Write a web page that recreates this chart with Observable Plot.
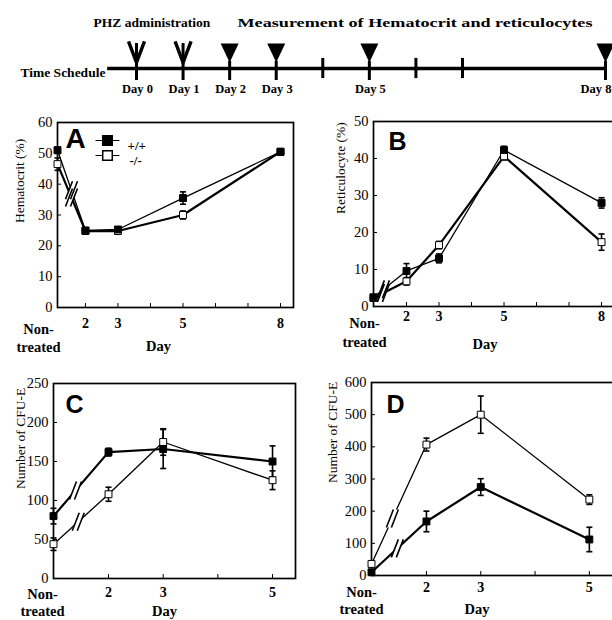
<!DOCTYPE html>
<html><head><meta charset="utf-8">
<script src="https://cdn.jsdelivr.net/npm/d3@7"></script>
<script src="https://cdn.jsdelivr.net/npm/@observablehq/plot@0.6"></script>
<style>
body{margin:0;background:#fff;}
#fig{position:relative;width:612px;height:620px;overflow:hidden;background:#fff;}
#fig > svg{position:absolute;}
</style></head><body><div id="fig"></div>
<script>
const SERIF = "'Liberation Serif', 'Times New Roman', serif";
const SANS = "'Liberation Sans', Arial, sans-serif";

// ---------- time schedule ----------
const scheduleStart = -0.62;
const scheduleEnd = 8;
const phzDays = [0, 1];
const measureDays = [2, 3, 5, 8];
const plainDays = [4, 6, 7];
const labelDays = [0, 1, 2, 3, 5, 8];
const labelTexts = ["Day 0", "Day 1", "Day 2", "Day 3", "Day 5", "Day 8"];

// ---------- panel A: hematocrit (%) ----------
const daysAB = ["NT", 2, 3, 5, 8];
const hctWT = [51, 25, 25.3, 35.5, 50.5];
const hctWTerr = [1, 0.6, 0.8, 2, 0.8];
const hctKO = [46.5, 24.8, 24.8, 30, 50.5];
const hctKOerr = [2, 0.5, 0.6, 1.3, 1];

// ---------- panel B: reticulocyte (%) ----------
const retWT = [2.5, 9.6, 13, 42.3, 28];
const retWTerr = [0.5, 2, 1.2, 1, 1.4];
const retKO = [2.3, 6.8, 16.6, 40.6, 17.4];
const retKOerr = [0.5, 1, 1, 1, 2.2];

// ---------- panel C: CFU-E ----------
const daysCD = ["NT", 2, 3, 5];
const cfuCWT = [80, 162, 166, 150];
const cfuCWTerr = [10, 5, 25, 20];
const cfuCKO = [44, 108, 175, 126];
const cfuCKOerr = [8, 9, 17, 12];

// ---------- panel D: CFU-E ----------
const cfuDWT = [10, 168, 275, 112];
const cfuDWTerr = [5, 32, 26, 38];
const cfuDKO = [36, 407, 500, 236];
const cfuDKOerr = [8, 20, 58, 15];

const fig = document.getElementById("fig");
function place(svg, left, top) {
  svg.style.left = left + "px";
  svg.style.top = top + "px";
  fig.appendChild(svg);
}

// custom symbols
const vArms = {draw(c) { c.moveTo(-8, -10.5); c.lineTo(0, 10.5); c.lineTo(8, -10.5); }};
const triDown = {draw(c) { c.moveTo(-9, -9.5); c.lineTo(9, -9.5); c.lineTo(0, 9.5); c.closePath(); }};
const breakFill = {draw(c) { c.moveTo(-6, 9); c.lineTo(1, -9); c.lineTo(6, -9); c.lineTo(-1, 9); c.closePath(); }};
const breakLines = {draw(c) { c.moveTo(-6, 9); c.lineTo(1, -9); c.moveTo(-1, 9); c.lineTo(6, -9); }};
const cap = {draw(c) { c.moveTo(-3, 0); c.lineTo(3, 0); }};
const legLine = {draw(c) { c.moveTo(-12, 0); c.lineTo(-5, 0); c.moveTo(5, 0); c.lineTo(12, 0); }};

// ---------- schedule plot ----------
const sched = Plot.plot({
  width: 612, height: 100, margin: 0,
  x: {type: "linear", domain: [0, 7, 8], range: [136, 462, 605], axis: null},
  y: {domain: [-1, 1], range: [92, 44], axis: null},
  style: {fontFamily: SERIF, background: "transparent", color: "black"},
  marks: [
    Plot.ruleY([0], {x1: scheduleStart, x2: scheduleEnd, strokeWidth: 3.4}),
    Plot.ruleX(phzDays, {x: d => d, y1: -0.5, y2: 1.04, strokeWidth: 3}),
    Plot.dot(phzDays, {x: d => d, y: 0.69, symbol: vArms, fill: "none", stroke: "black", strokeWidth: 3.4}),
    Plot.ruleX(measureDays, {x: d => d, y1: -0.5, y2: 0.3, strokeWidth: 3}),
    Plot.dot(measureDays, {x: d => d, y: 0.65, symbol: triDown, fill: "black", stroke: "none"}),
    Plot.ruleX(plainDays, {x: d => d, y1: -0.42, y2: 0.42, strokeWidth: 3}),
    Plot.text(labelDays.slice(0, 5), {x: d => d, y: -0.85, text: (d, i) => labelTexts[i], fontWeight: "bold", fontSize: 12.5, dx: 1}),
    Plot.text(labelDays.slice(5), {x: d => d, y: -0.85, text: (d, i) => labelTexts[5 + i], fontWeight: "bold", fontSize: 12.5, textAnchor: "end", dx: 6}),
    Plot.text(["PHZ administration"], {frameAnchor: "top-left", dx: 93, dy: 22, textAnchor: "start", lineAnchor: "middle", fontWeight: "bold", fontSize: 13.5}),
    Plot.text(["Measurement of Hematocrit and reticulocytes"], {frameAnchor: "top-left", dx: 237, dy: 22, textAnchor: "start", lineAnchor: "middle", fontWeight: "bold", fontSize: 13.5}),
    Plot.text(["Time Schedule"], {frameAnchor: "top-left", dx: 20, dy: 72, textAnchor: "start", lineAnchor: "middle", fontWeight: "bold", fontSize: 13.5})
  ]
});
d3.select(sched).selectAll("text").each(function() {
  if (this.textContent === "Measurement of Hematocrit and reticulocytes")
    d3.select(this).attr("textLength", 355).attr("lengthAdjust", "spacingAndGlyphs");
});
place(sched, 0, 0);

// ---------- panel builder ----------
function panel(c) {
  const nt = c.xDomain[0];
  const mk = (vals, errs) => c.days.map((d, i) => ({x: d === "NT" ? nt : d, y: vals[i], e: errs[i]}));
  const wt = mk(c.wt, c.wtErr), ko = mk(c.ko, c.koErr);
  const brk = (r, f) => ({x: r[0].x + f * (r[1].x - r[0].x), y: r[0].y + f * (r[1].y - r[0].y)});
  const breaks = [brk(wt, c.breakWT), brk(ko, c.breakKO)];
  const both = [...wt, ...ko];
  const caps = both.flatMap(d => [{x: d.x, y: d.y - d.e}, {x: d.x, y: d.y + d.e}]);
  const marks = [
    Plot.axisY({ticks: c.yTicks, tickSize: -4, tickPadding: 9, fontSize: 14.5, label: null, tickFormat: d => String(d)}),
    Plot.axisX({ticks: c.xTicks, tickSize: -4, tickPadding: c.xPad, fontSize: 14, fontWeight: "bold", label: null,
      tickFormat: d => c.xLabeled.includes(d) ? String(d) : ""}),
    Plot.frame({strokeWidth: 1.7}),
    Plot.text(["Non-\ntreated"], {frameAnchor: "bottom-left", dx: c.ntDx, dy: c.ntDy, textAnchor: "middle", lineAnchor: "top",
      lineHeight: c.ntLh, fontWeight: "bold", fontSize: 14.5}),
    Plot.text(["Day"], {frameAnchor: "bottom", dx: c.dayDx, dy: c.dayDy, lineAnchor: "top", fontWeight: "bold", fontSize: 14.5}),
    Plot.text([c.ylabel], {frameAnchor: "left", rotate: -90, dx: c.ylDx, dy: c.ylDy, fontSize: 13.5}),
    Plot.text([c.letter], {frameAnchor: "top-left", dx: c.letDx, dy: c.letDy, textAnchor: "start", lineAnchor: "top",
      fontFamily: SANS, fontWeight: "bold", fontSize: c.letSize}),
    Plot.line(ko, {x: "x", y: "y", strokeWidth: c.koW}),
    Plot.line(wt, {x: "x", y: "y", strokeWidth: c.wtW}),
    Plot.dot(breaks, {x: "x", y: "y", symbol: breakFill, fill: "white", stroke: "none"}),
    Plot.dot(breaks, {x: "x", y: "y", symbol: breakLines, fill: "none", stroke: "black", strokeWidth: 1.6}),
    Plot.ruleX(both, {x: "x", y1: d => d.y - d.e, y2: d => d.y + d.e, strokeWidth: 1.6}),
    Plot.dot(caps, {x: "x", y: "y", symbol: cap, fill: "none", stroke: "black", strokeWidth: 1.6}),
    Plot.dot(ko, {x: "x", y: "y", symbol: "square", r: 3.9, fill: "white", stroke: "black", strokeWidth: 1}),
    Plot.dot(wt, {x: "x", y: "y", symbol: "square", r: 3.9, fill: "black", stroke: "black", strokeWidth: 1})
  ];
  if (c.legend) {
    marks.push(
      Plot.dot([0], {frameAnchor: "top-left", dx: 50, dy: 18, symbol: legLine, fill: "none", stroke: "black", strokeWidth: 1}),
      Plot.dot([0], {frameAnchor: "top-left", dx: 50, dy: 33, symbol: legLine, fill: "none", stroke: "black", strokeWidth: 1}),
      Plot.dot([0], {frameAnchor: "top-left", dx: 50, dy: 18, symbol: "square", r: 5.4, fill: "black", stroke: "black"}),
      Plot.dot([0], {frameAnchor: "top-left", dx: 50, dy: 33, symbol: "square", r: 5.4, fill: "white", stroke: "black"}),
      Plot.text(["+/+"], {frameAnchor: "top-left", dx: 70, dy: 18, textAnchor: "start", fontWeight: "bold", fontSize: 13}),
      Plot.text(["-/-"], {frameAnchor: "top-left", dx: 72, dy: 33, textAnchor: "start", fontWeight: "bold", fontSize: 13})
    );
  }
  const svg = Plot.plot({
    width: c.width, height: c.height,
    marginTop: c.mt, marginBottom: c.mb, marginLeft: c.ml, marginRight: c.mr,
    x: {domain: c.xDomain}, y: {domain: c.yDomain},
    style: {fontFamily: SERIF, background: "transparent", color: "black", overflow: "visible"},
    marks
  });
  place(svg, c.left, c.top);
}

panel({left: 0, top: 100, width: 306, height: 260, mt: 22, mb: 53, ml: 57, mr: 13,
  xDomain: [1.14, 8.4], yDomain: [0, 60], yTicks: [0, 10, 20, 30, 40, 50, 60],
  xTicks: [2, 3, 4, 5, 6, 7, 8], xLabeled: [2, 3, 5, 8], xPad: 15,
  days: daysAB, wt: hctWT, wtErr: hctWTerr, ko: hctKO, koErr: hctKOerr, wtW: 1.3, koW: 2.2,
  breakWT: 0.5, breakKO: 0.5, ylabel: "Hematocrit (%)", ylDx: -38, ylDy: 8,
  ntDx: -19, ntDy: 13, ntLh: 1.27, dayDx: -17, dayDy: 33, letter: "A", letDx: 8, letDy: 6, letSize: 28, legend: true});

panel({left: 306, top: 100, width: 310, height: 260, mt: 21, mb: 54, ml: 67, mr: 0,
  xDomain: [0.985, 8.46], yDomain: [0, 50], yTicks: [0, 10, 20, 30, 40, 50],
  xTicks: [2, 3, 4, 5, 6, 7, 8], xLabeled: [2, 3, 5, 8], xPad: 9,
  days: daysAB, wt: retWT, wtErr: retWTerr, ko: retKO, koErr: retKOerr, wtW: 1.3, koW: 2.2,
  breakWT: 0.3, breakKO: 0.3, ylabel: "Reticulocyte (%)", ylDx: -33, ylDy: 0,
  ntDx: -9, ntDy: 8, ntLh: 1.3, dayDx: -10, dayDy: 32, letter: "B", letDx: 15, letDy: 11, letSize: 25});

panel({left: 0, top: 360, width: 306, height: 260, mt: 23, mb: 42, ml: 53, mr: 11,
  xDomain: [0.994, 5.42], yDomain: [0, 250], yTicks: [0, 50, 100, 150, 200, 250],
  xTicks: [2, 3, 4, 5], xLabeled: [2, 3, 5], xPad: 13,
  days: daysCD, wt: cfuCWT, wtErr: cfuCWTerr, ko: cfuCKO, koErr: cfuCKOerr, wtW: 2.2, koW: 1.3,
  breakWT: 0.4, breakKO: 0.45, ylabel: "Number of CFU-E", ylDx: -33, ylDy: 8,
  ntDx: -11, ntDy: 8, ntLh: 1.18, dayDx: -10, dayDy: 27, letter: "C", letDx: 12, letDy: 12, letSize: 25});

panel({left: 306, top: 360, width: 310, height: 260, mt: 22, mb: 45, ml: 65, mr: 0,
  xDomain: [0.988, 5.5], yDomain: [0, 600], yTicks: [0, 100, 200, 300, 400, 500, 600],
  xTicks: [2, 3, 4, 5], xLabeled: [2, 3, 5], xPad: 11,
  days: daysCD, wt: cfuDWT, wtErr: cfuDWTerr, ko: cfuDKO, koErr: cfuDKOerr, wtW: 2.2, koW: 1.3,
  breakWT: 0.47, breakKO: 0.38, ylabel: "Number of CFU-E", ylDx: -39, ylDy: 4,
  ntDx: -10, ntDy: 9, ntLh: 1.18, dayDx: -17, dayDy: 28, letter: "D", letDx: 15, letDy: 13, letSize: 25});
</script></body></html>
